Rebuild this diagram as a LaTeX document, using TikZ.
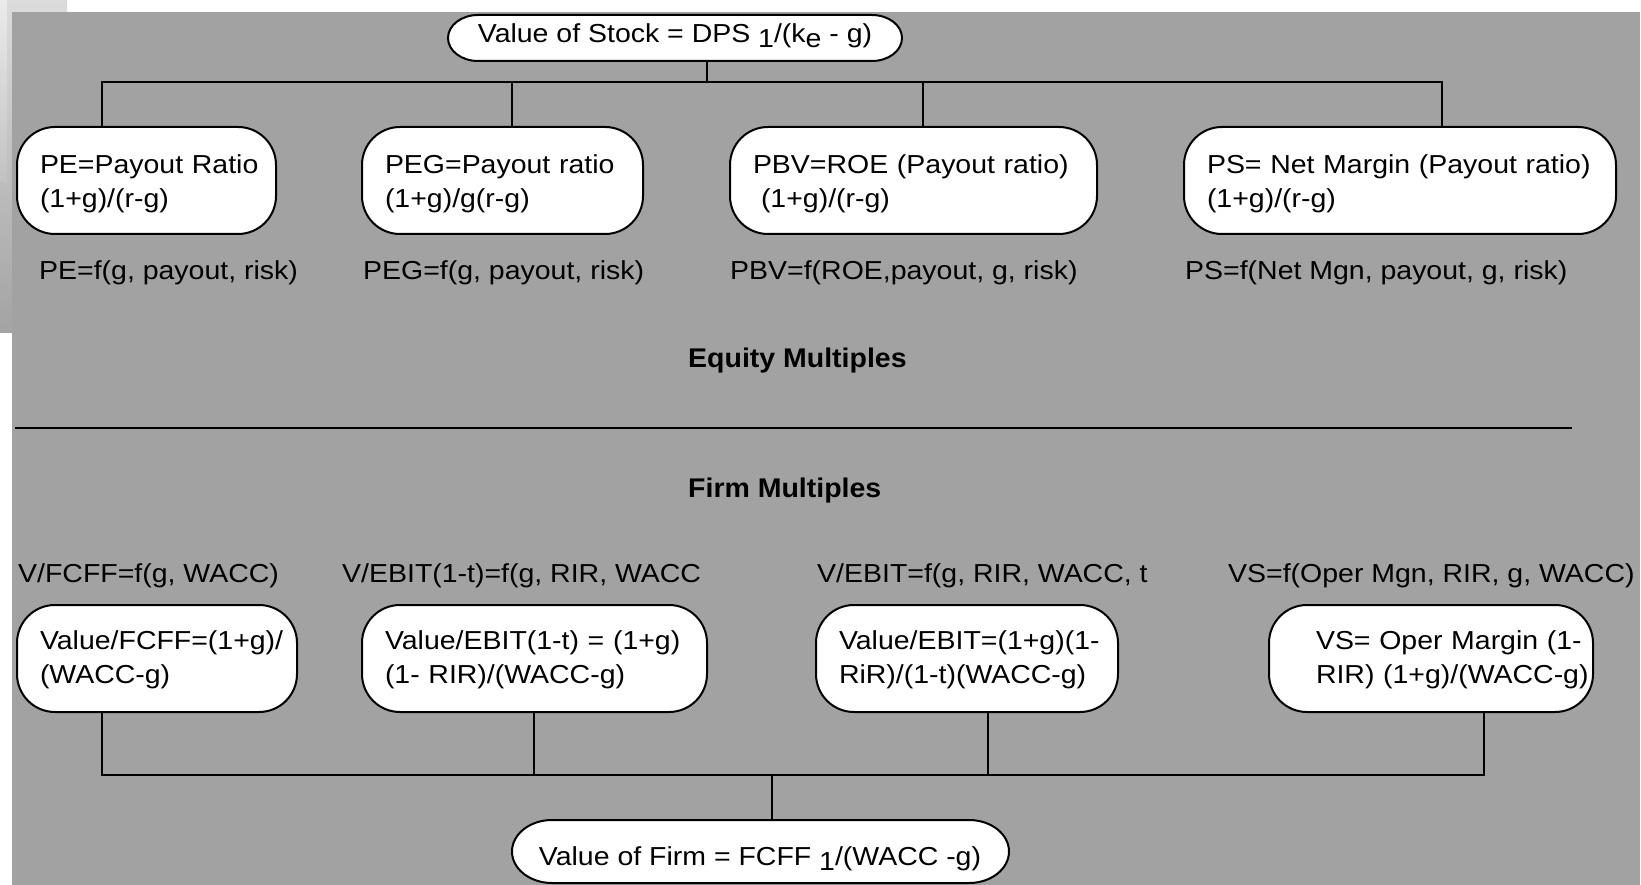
\documentclass[tikz,border=0pt]{standalone}
\usepackage{fontspec}
\setmainfont[FakeStretch=1.095]{Liberation Sans}
\newfontfamily\headfont[FakeStretch=1.055]{Liberation Sans}
\newcommand{\fsz}{\fontsize{26}{34}\selectfont}
\newcommand{\fbz}{\headfont\fontsize{27}{32}\selectfont\bfseries}
\newcommand{\low}[1]{\raisebox{-5pt}{#1}}
\definecolor{panel}{RGB}{162,162,162}
\begin{document}
\begin{tikzpicture}[x=1pt,y=-1pt,
  conn/.style={draw=black, line width=2pt, line join=miter},
  outline/.style={draw=black, line width=2pt, fill=white},
  rbox/.style={draw=black, line width=2pt, fill=white, rounded corners=38pt,
    minimum height=107pt, inner xsep=23pt, inner ysep=0pt, align=left,
    anchor=north west, font=\fsz, text height=24pt, text depth=37pt},
  rboxb/.style={rbox, text height=21pt, text depth=40pt},
  stad/.style={inner sep=0pt, font=\fsz},
  flabel/.style={anchor=base west, inner sep=0pt, font=\fsz},
  heading/.style={anchor=base west, inner sep=0pt, font=\fbz}
]
% page and background panels
\useasboundingbox (0,0) rectangle (1641,885);
\fill[white] (0,0) rectangle (1641,885);
\shade[top color=black!14, bottom color=black!36] (0,0) rectangle (67,332);
\shade[top color=black!8, bottom color=black!24] (0,0) rectangle (7,182);
\fill[panel] (12,12) rectangle (1640,885);

% top root (elliptic-ended outline)
\path[outline] (478,15) -- (872,15)
  arc[start angle=90, end angle=-90, x radius=30pt, y radius=23pt]
  -- (478,61)
  arc[start angle=270, end angle=90, x radius=30pt, y radius=23pt] -- cycle;
\node[stad, minimum width=454pt, minimum height=46pt,
      text height=17pt, text depth=7pt] (stock) at (675,38)
  {Value of Stock = DPS \low{1}/(k\low{e} - g)};

% equity boxes
\node[rbox, text width=213pt] (pe) at (16,126)
  {\mbox{PE=Payout Ratio}\\\mbox{(1+g)/(r-g)}};
\node[rbox, text width=235pt] (peg) at (361,126)
  {\mbox{PEG=Payout ratio}\\\mbox{(1+g)/g(r-g)}};
\node[rbox, text width=321pt] (pbv) at (729,126)
  {\mbox{PBV=ROE (Payout ratio)}\\\hspace*{8pt}\mbox{(1+g)/(r-g)}};
\node[rbox, text width=386pt] (ps) at (1183,126)
  {\mbox{PS= Net Margin (Payout ratio)}\\\mbox{(1+g)/(r-g)}};

\node[flabel] (fpe) at (39,280) {PE=f(g, payout, risk)};
\node[flabel] (fpeg) at (363,280) {PEG=f(g, payout, risk)};
\node[flabel] (fpbv) at (730,280) {PBV=f(ROE,payout, g, risk)};
\node[flabel] (fps) at (1185,280) {PS=f(Net Mgn, payout, g, risk)};

\node[heading] (eqm) at (688,367) {Equity Multiples};
\coordinate (sepL) at (15,428);
\coordinate (sepR) at (1572,428);
\draw[black, line width=2.5pt] (sepL) -- (sepR);
\node[heading] (fim) at (688,497) {Firm Multiples};

% firm labels
\node[flabel] (ffcff) at (18,582) {V/FCFF=f(g, WACC)};
\node[flabel] (febitt) at (342,582) {V/EBIT(1-t)=f(g, RIR, WACC};
\node[flabel] (febit) at (817,582) {V/EBIT=f(g, RIR, WACC, t};
\node[flabel] (fvs) at (1228,582) {VS=f(Oper Mgn, RIR, g, WACC)};

% firm boxes
\node[rboxb, text width=234pt] (fcff) at (16,604)
  {\mbox{Value/FCFF=(1+g)/}\\\mbox{(WACC-g)}};
\node[rboxb, text width=299pt] (ebitt) at (361,604)
  {\mbox{Value/EBIT(1-t) = (1+g)}\\\mbox{(1- RIR)/(WACC-g)}};
\node[rboxb, text width=256pt] (ebit) at (815,604)
  {\mbox{Value/EBIT=(1+g)(1-}\\\mbox{RiR)/(1-t)(WACC-g)}};
\node[rboxb, text width=278pt] (vs) at (1268,604)
  {\hspace*{24pt}\mbox{VS= Oper Margin (1-}\\\hspace*{24pt}\mbox{RIR) (1+g)/(WACC-g)}};

% bottom root (elliptic-ended outline)
\path[outline] (552,820) -- (969,820)
  arc[start angle=90, end angle=-90, x radius=40pt, y radius=31.5pt]
  -- (552,883)
  arc[start angle=270, end angle=90, x radius=40pt, y radius=31.5pt] -- cycle;
\node[stad, minimum width=497pt, minimum height=63pt,
      text height=34pt, text depth=7pt] (firm) at (760,851.5)
  {Value of Firm = FCFF \low{1}/(WACC -g)};

% top connectors
\coordinate (tj) at (707,82);
\coordinate (t1) at (102,82);
\coordinate (t2) at (512,82);
\coordinate (t3) at (923,82);
\coordinate (t4) at (1442,82);
\draw[conn] (stock.south -| tj) -- (tj);
\draw[conn] (t1 |- pe.north) -- (t1) -- (t4) -- (t4 |- ps.north);
\draw[conn] (t2) -- (t2 |- peg.north);
\draw[conn] (t3) -- (t3 |- pbv.north);

% bottom connectors
\coordinate (bj) at (772,775);
\coordinate (b1) at (102,775);
\coordinate (b2) at (534,775);
\coordinate (b3) at (988,775);
\coordinate (b4) at (1484,775);
\draw[conn] (b1 |- fcff.south) -- (b1) -- (b4) -- (b4 |- vs.south);
\draw[conn] (b2 |- ebitt.south) -- (b2);
\draw[conn] (b3 |- ebit.south) -- (b3);
\draw[conn] (bj) -- (bj |- firm.north);
\end{tikzpicture}
\end{document}
